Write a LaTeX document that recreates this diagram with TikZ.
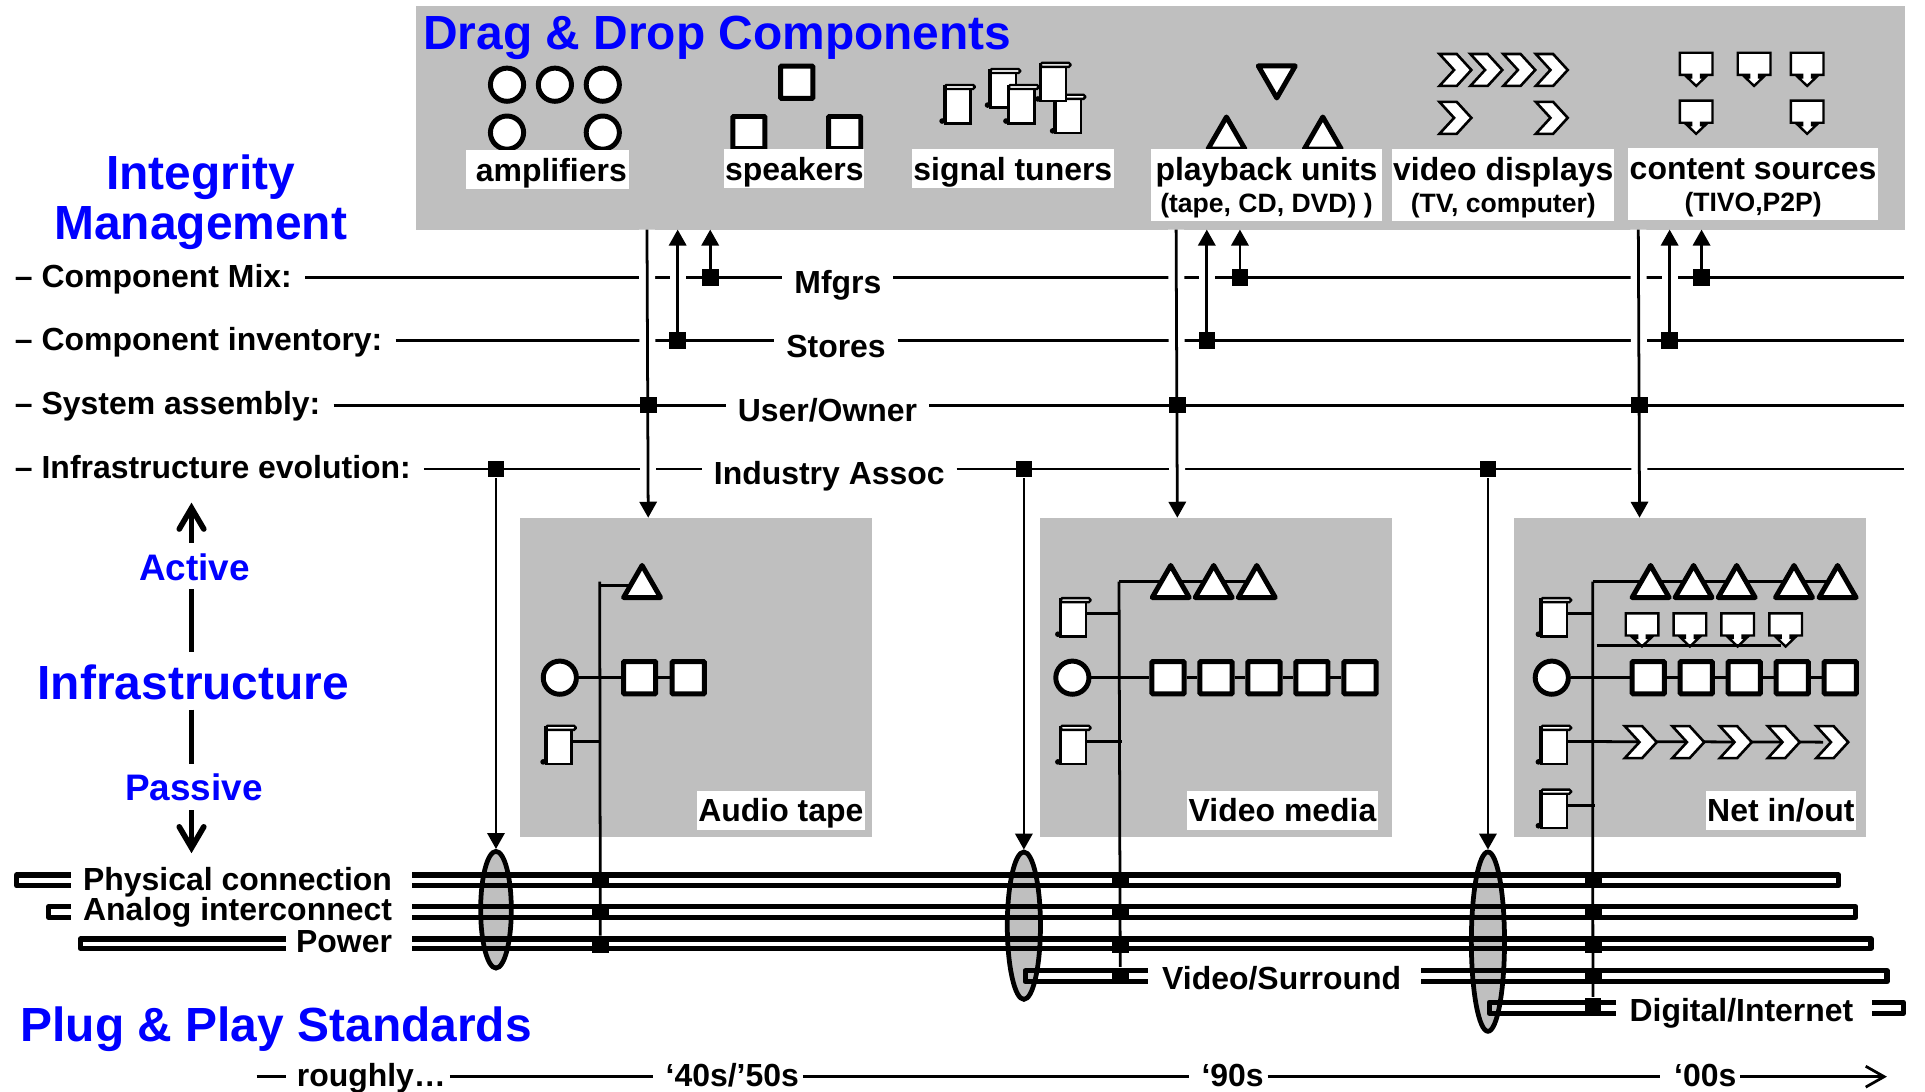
\documentclass[tikz,border=0pt]{standalone}
\usepackage{fontspec}
\usepackage{xcolor}
\usepackage{tikz}
\usetikzlibrary{calc,positioning,arrows.meta,shapes.geometric,shapes.symbols}
\setmainfont{Liberation Sans}
\definecolor{panelgray}{HTML}{BFBFBF}
\definecolor{headblue}{HTML}{0000FF}
\tikzset{
  panel/.style={fill=panelgray, draw=none, inner sep=0pt},
  lab/.style={font=\fontsize{7.4}{8.8}\bfseries\selectfont, text=black, inner sep=0pt, text height=0.19cm, text depth=0.03cm},
  rowlab/.style={lab, inner xsep=0.1cm, anchor=west},
  midlab/.style={lab, inner xsep=0.09cm},
  tlab/.style={lab, inner xsep=0.025cm},
  buslab/.style={lab, anchor=east, text height=0.21cm},
  complab/.style={lab, text height=0.225cm, fill=white, minimum height=0.32cm},
  sublab/.style={lab, font=\fontsize{6.15}{7}\bfseries\selectfont, text height=0.18cm, text depth=0.045cm, fill=white, minimum height=0.27cm},
  baylab/.style={lab, text height=0.21cm, fill=white, minimum height=0.315cm},
  head/.style={font=\fontsize{11.1}{13}\bfseries\selectfont, text=headblue, inner sep=0pt},
  subhead/.style={font=\fontsize{8.55}{10}\bfseries\selectfont, text=headblue, inner sep=0pt},
  ampl/.style={circle, draw=black, fill=white, line width=1.15pt, minimum size=0.27cm, inner sep=0pt},
  spkr/.style={rectangle, draw=black, fill=white, line width=1.15pt, minimum size=0.262cm, inner sep=0pt, rounded corners=0.2pt},
  play/.style={regular polygon, regular polygon sides=3, draw=black, fill=white, line width=1.15pt, line join=round, minimum size=0.348cm, inner sep=0pt},
  disp/.style={signal, signal to=east, signal from=west, signal pointer angle=95, draw=black, fill=white, line width=0.6pt, minimum width=0.26cm, minimum height=0.26cm, inner sep=0pt},
  jn/.style={rectangle, fill=black, draw=none, minimum size=0.135cm, inner sep=0pt},
  lens/.style={ellipse, draw=black, fill=panelgray, line width=1.1pt, inner sep=0pt},
  hline/.style={line width=0.64pt},
  wire/.style={line width=0.64pt},
  busline/.style={line width=1.2pt, line join=round},
  sysline/.style={line width=0.64pt, preaction={draw=white, line width=3.7pt, -}},
  tri/.style={-{Triangle[length=0.13cm,width=0.14cm]}},
  thick arrow/.style={line width=1.3pt, -{Straight Barb[length=0.17cm,width=0.2cm,line cap=round]}},
  tuner/.pic={
    \draw[fill=white, line width=0.55pt] (-10.5,-12.5) rectangle (10.5,15.5);
    \draw[fill=white, line width=0.55pt, rounded corners=0.4pt] (-10.5,-15.8) rectangle (14,-12.5);
    \draw[line width=0.85pt] (-10.5,-15.5) -- (-10.5,15.5);
    \fill (-12.6,13.6) circle (2.3);
    \coordinate (-e) at (10.5,-3);
  },
  source/.pic={
    \draw[fill=white, line width=0.55pt, line join=miter] (-13.3,0) -- (13.3,0) -- (13.3,18) -- (4,18) -- (4,20) -- (7.3,20) -- (0,27) -- (-7.3,20) -- (-4,20) -- (-4,18) -- (-13.3,18) -- cycle;
  }
}
\begin{document}
\begin{tikzpicture}[x=0.01cm, y=-0.01cm]
  \useasboundingbox (0,0) rectangle (1568,888.7);

  % Panels
  \node[panel, minimum width=12.12cm, minimum height=1.82cm] (dragpanel) at (945,96) {};
  \node[panel, minimum width=2.87cm, minimum height=2.6cm] (audiopanel) at (567,552) {};
  \node[panel, minimum width=2.87cm, minimum height=2.6cm] (videopanel) at (990.5,552) {};
  \node[panel, minimum width=2.87cm, minimum height=2.6cm] (netpanel) at (1376.5,552) {};

  \node[head, anchor=west] (title) at (344,31) {Drag \& Drop Components};
  \node[head] (integrity) at (163.5,144) {Integrity};
  \node[head] (management) at (163.5,186) {Management};
  \node[head] (infra) at (157.5,556) {Infrastructure};
  \node[head, anchor=west] (plug) at (16,838) {Plug \& Play Standards};
  \node[subhead] (active) at (158.5,462) {Active};
  \node[subhead] (passive) at (158,641) {Passive};

  % Active / passive axis
  \coordinate (axtip) at (156,409.4);
  \coordinate (axbot) at (156,695);
  \draw[thick arrow] (156,442) -- (axtip);
  \draw[line width=1.3pt] (156,480) -- (156,530.8);
  \draw[line width=1.3pt] (156,578) -- (156,622.5);
  \draw[thick arrow] (156,660) -- (axbot);

  % Row labels
  \node[rowlab] (rowmix) at (1.5,226) {-- Component Mix:};
  \node[rowlab] (rowinv) at (1.5,277.5) {-- Component inventory:};
  \node[rowlab] (rowsys) at (1.5,330) {-- System assembly:};
  \node[rowlab] (rowevo) at (1.5,382) {-- Infrastructure evolution:};
  \node[midlab] (mfgrs) at (682.5,231) {Mfgrs};
  \node[midlab] (stores) at (681,283) {Stores};
  \node[midlab] (owner) at (674,335) {User/Owner};
  \node[midlab] (assoc) at (675.5,387) {Industry Assoc};
  \coordinate (rmix) at (1551,226);
  \coordinate (rinv) at (1551,277.5);
  \coordinate (rsys) at (1551,330);
  \coordinate (revo) at (1551,382);

  \draw[hline] (rowmix.east) -- (rowmix.east -| mfgrs.west);
  \draw[hline] (rowmix.east -| mfgrs.east) -- (rmix);
  \draw[hline] (rowinv.east) -- (rowinv.east -| stores.west);
  \draw[hline] (rowinv.east -| stores.east) -- (rinv);
  \draw[hline] (rowevo.east) -- (rowevo.east -| assoc.west);
  \draw[hline] (rowevo.east -| assoc.east) -- (revo);

  % Selection arrows down and up
  \foreach \i/\xa/\xb/\xs/\xm in {1/527/528/552/578.5, 2/958/959/983/1010, 3/1334.5/1335.5/1360/1386} {
    \coordinate (sys\i) at (\xa,187);
    \coordinate (bay\i) at (\xb,421.7);
    \coordinate (jsys\i) at (\xb,330);
    \coordinate (jinv\i) at (\xs,277.5);
    \coordinate (jmix\i) at (\xm,226);
    \draw[sysline, tri] (sys\i) -- (bay\i);
    \draw[sysline, tri] (jinv\i) -- (jinv\i |- sys\i);
    \draw[hline, tri] (jmix\i) -- (jmix\i |- sys\i);
  }
  \draw[hline] (rowsys.east) -- (rowsys.east -| owner.west);
  \draw[hline] (rowsys.east -| owner.east) -- (rsys);
  \foreach \i in {1,2,3} {
    \node[jn] (bsys\i) at (jsys\i) {};
    \node[jn] (binv\i) at (jinv\i) {};
    \node[jn] (bmix\i) at (jmix\i) {};
  }
  \node[jn] (bevo1) at (404,382) {};
  \node[jn] (bevo2) at (834,382) {};
  \node[jn] (bevo3) at (1212,382) {};

  % Plug and play busses: start x / corner x / upper y / lower y
  \def\buspieces{57.5/13.5/712.7/721.4, 335.6/1497.8/712.7/721.4,
    57.5/39.5/738.5/747.2, 335.6/1511.5/738.5/747.2,
    232.7/65.4/764.9/772.5, 335.6/1524/764.9/772.5,
    934.8/835/790.7/799.6, 1157.6/1537/790.7/799.6,
    1316.5/1213/816.4/825.4, 1525/1550.4/816.4/825.4}
  \foreach \s/\c/\p/\q in \buspieces {
    \fill[white] (\s,\p) rectangle (\c,\q);
  }
  \node[lens, minimum width=0.25cm, minimum height=0.95cm] (lens1) at (404,741) {};
  \node[lens, minimum width=0.27cm, minimum height=1.2cm] (lens2) at (834,754) {};
  \node[lens, minimum width=0.27cm, minimum height=1.46cm] (lens3) at (1212,767) {};
  \foreach \s/\c/\p/\q in \buspieces {
    \draw[busline] (\s,\p) -- (\c,\p) -- (\c,\q) -- (\s,\q);
  }
  \foreach \i in {1,2,3} {
    \draw[hline, tri] (bevo\i) -- (lens\i.north);
  }

  \node[buslab] (physical) at (320,716) {Physical connection};
  \node[buslab] (analog) at (320,741) {Analog interconnect};
  \node[buslab] (power) at (320,767) {Power};
  \node[lab, text height=0.21cm] (surround) at (1044,797) {Video/Surround};
  \node[lab, text height=0.21cm] (internet) at (1418.5,823) {Digital/Internet};

  % Bus junctions
  \foreach \n/\y in {1/716.8, 2/743, 3/769.5} {
    \node[jn] (ja\n) at (489,\y) {};
    \node[jn] (jv\n) at (912.5,\y) {};
    \node[jn] (jn\n) at (1298,\y) {};
  }
  \node[jn] (jv4) at (912.5,795) {};
  \node[jn] (jn4) at (1298,795) {};
  \node[jn] (jn5) at (1297.5,819.5) {};

  % Component palette
  \foreach \i/\x/\y in {1/413/69, 2/452/69, 3/491/69, 4/413/108, 5/491/108}
    \node[ampl] (pa\i) at (\x,\y) {};
  \foreach \i/\x/\y in {1/649/67, 2/610/108, 3/688/108}
    \node[spkr] (ps\i) at (\x,\y) {};
  \pic (pt1) at (780,85) {tuner};
  \pic (pt2) at (817,72) {tuner};
  \pic (pt3) at (832,85) {tuner};
  \pic (pt5) at (870,93) {tuner};
  \pic (pt4) at (858,67) {tuner};
  \node[play, shape border rotate=180] (pp1) at (1040,62.4) {};
  \node[play] (pp2) at (999,112.7) {};
  \node[play] (pp3) at (1077.5,112.7) {};
  \foreach \i/\x/\y in {1/1185.5/57, 2/1210.7/57, 3/1237.5/57, 4/1264/57, 5/1185.5/96, 6/1264/96}
    \node[disp] (pd\i) at (\x,\y) {};
  \foreach \x/\y in {1381.6/43, 1428.8/43, 1472/43, 1381.6/82, 1472/82}
    \pic at (\x,\y) {source};

  \node[complab, minimum width=1.32cm, text width=1.29cm, align=right] (lamp) at (446,138) {amplifiers};
  \node[complab, minimum width=1.14cm] (lspk) at (647,137.5) {speakers};
  \node[complab, minimum width=1.64cm] (ltun) at (825,137.5) {signal tuners};
  \node[complab, minimum width=1.88cm] (lpla) at (1031.6,137.5) {playback units};
  \node[sublab, minimum width=1.88cm, below=-0.5pt of lpla] (lpla2) {(tape, CD, DVD) )};
  \node[complab, minimum width=1.81cm] (ldis) at (1224.5,137.5) {video displays};
  \node[sublab, minimum width=1.81cm, below=-0.5pt of ldis] (ldis2) {(TV, computer)};
  \node[complab, minimum width=2.04cm] (lsrc) at (1428,136.5) {content sources};
  \node[sublab, minimum width=2.04cm, below=-0.5pt of lsrc] (lsrc2) {(TIVO,P2P)};

  % Audio tape
  \coordinate (atop) at (488.5,473.8);
  \coordinate (ahook) at (488.5,477);
  \coordinate (atri) at (523,477);
  \draw[wire] (atop) -- (ja3);
  \draw[wire] (ahook) -- (atri);
  \node[play] (at1) at (523,478) {};
  \node[ampl] (ac) at (456,552) {};
  \node[spkr] (as1) at (521,552) {};
  \node[spkr] (as2) at (560.6,552) {};
  \draw[wire] (ac) -- (as1);
  \draw[wire] (as1) -- (as2);
  \pic (ap) at (455,607) {tuner};
  \draw[wire] (ap-e) -- (ap-e -| atop);
  \node[baylab, minimum width=1.372cm] (laud) at (636,660) {Audio tape};

  % Video media
  \coordinate (vtop) at (911.5,473.8);
  \coordinate (vend) at (1023.7,473.8);
  \draw[wire] (vtop) -- (jv4);
  \draw[wire] (vtop) -- (vend);
  \foreach \i/\x in {1/953.6, 2/988.6, 3/1023.7}
    \node[play] (vt\i) at (\x,478) {};
  \node[ampl] (vc) at (873.5,552) {};
  \foreach \i/\x in {1/951.4, 2/990.5, 3/1029.6, 4/1068.6, 5/1107.8}
    \node[spkr] (vs\i) at (\x,552) {};
  \draw[wire] (vc) -- (vs1);
  \foreach \a/\b in {1/2, 2/3, 3/4, 4/5}
    \draw[wire] (vs\a) -- (vs\b);
  \pic (vp1) at (874.3,503) {tuner};
  \pic (vp2) at (874.3,607) {tuner};
  \draw[wire] (vp1-e) -- (vp1-e -| vtop);
  \draw[wire] (vp2-e) -- ++(29.5,0);
  \node[baylab, minimum width=1.555cm] (lvid) at (1044.7,660) {Video media};

  % Net in/out
  \coordinate (ntop) at (1297.3,473.8);
  \coordinate (nend) at (1496.8,473.8);
  \coordinate (nsrca) at (1300.5,526);
  \coordinate (nsrcb) at (1451,526);
  \coordinate (ndisp) at (1485,604.5);
  \draw[wire] (ntop) -- (jn5);
  \draw[wire] (ntop) -- (nend);
  \foreach \i/\x in {1/1344.5, 2/1379.5, 3/1414.6, 4/1461.3, 5/1496.8}
    \node[play] (nt\i) at (\x,478) {};
  \foreach \x in {1337.5, 1376.5, 1415.4, 1454.5}
    \pic at (\x,499.6) {source};
  \draw[wire] (nsrca) -- (nsrcb);
  \node[ampl] (nc) at (1264,552) {};
  \foreach \i/\x in {1/1342.6, 2/1381.7, 3/1420.8, 4/1459.9, 5/1499}
    \node[spkr] (ns\i) at (\x,552) {};
  \draw[wire] (nc) -- (ns1);
  \foreach \a/\b in {1/2, 2/3, 3/4, 4/5}
    \draw[wire] (ns\a) -- (ns\b);
  \pic (np1) at (1265.7,503) {tuner};
  \pic (np2) at (1265.7,607) {tuner};
  \pic (np3) at (1265.7,659) {tuner};
  \draw[wire] (np1-e) -- (np1-e -| ntop);
  \draw[wire] (np2-e) -- (ndisp);
  \draw[wire] (np3-e) -- ++(23,0);
  \foreach \i/\x in {1/1336.5, 2/1375.2, 3/1413.9, 4/1453, 5/1492.5}
    \node[disp] (nd\i) at (\x,604.5) {};
  \node[baylab, minimum width=1.221cm] (lnet) at (1450.6,660) {Net in/out};

  % Time line
  \node[tlab] (rough) at (302.5,877) {roughly\ldots};
  \node[tlab] (t40) at (596.5,877) {`40s/'50s};
  \node[tlab] (t90) at (1004,877) {`90s};
  \node[tlab] (t00) at (1389,877) {`00s};
  \coordinate (tstart) at (209,877);
  \coordinate (tdash) at (233,877);
  \coordinate (tend) at (1537,877);
  \draw[hline] (tstart) -- (tdash);
  \draw[hline] (rough) -- ([xshift=-0.07cm]t40.west);
  \draw[hline] (t40) -- ([xshift=-0.07cm]t90.west);
  \draw[hline] (t90) -- ([xshift=-0.08cm]t00.west);
  \draw[hline, -{Straight Barb[length=0.15cm,width=0.17cm]}] (t00) -- (tend);
\end{tikzpicture}
\end{document}
